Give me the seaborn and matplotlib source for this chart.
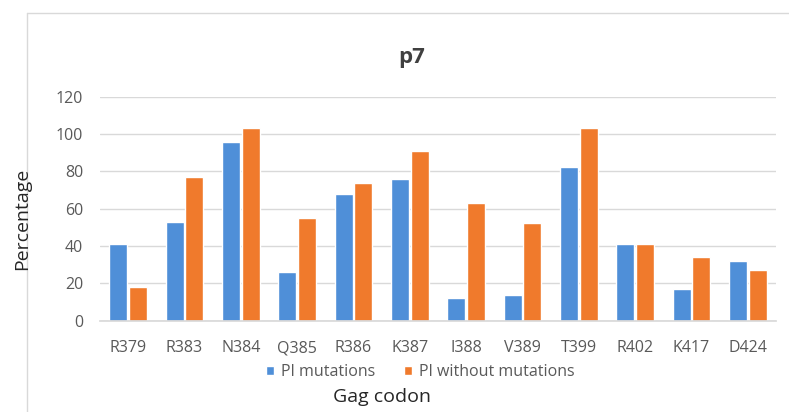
import matplotlib
matplotlib.use("Agg")
import matplotlib.pyplot as plt
from matplotlib.lines import Line2D
import seaborn as sns
import pandas as pd

codons = ["R379", "R383", "N384", "Q385", "R386", "K387", "I388", "V389",
          "T399", "R402", "K417", "D424"]
pi_mutations = [41, 53, 96, 26, 68, 76, 12, 14, 82.5, 41, 17, 32]
pi_without = [18, 77, 103, 55, 74, 91, 63, 52.5, 103, 41, 34, 27]
series_names = ["PI mutations", "PI without mutations"]
yticks = [0, 20, 40, 60, 80, 100, 120]

df = pd.DataFrame({
    "codon": codons * 2,
    "value": pi_mutations + pi_without,
    "series": [series_names[0]] * len(codons) + [series_names[1]] * len(codons),
})

sns.set_theme(style="white")
plt.rcParams["font.family"] = ["Open Sans", "DejaVu Sans"]

W, H = 789, 412
fig = plt.figure(figsize=(W / 100, H / 100), dpi=100)
ax = fig.add_axes([100 / W, 1 - 320.7 / H, 676 / W, 224 / H])

palette = {series_names[0]: "#4f8fd8", series_names[1]: "#f07a2c"}
sns.barplot(data=df, x="codon", y="value", hue="series", palette=palette,
            width=0.7, gap=0.1, saturation=1, ax=ax, legend=True)

ax.set_ylim(0, 120)
ax.set_yticks(yticks)
ax.set_xlim(-0.5, len(codons) - 0.5)
ax.yaxis.grid(True, color="#d9d9d9", linewidth=1)
ax.set_axisbelow(True)
for s in ["top", "right", "left"]:
    ax.spines[s].set_visible(False)
ax.spines["bottom"].set_color("#d9d9d9")
ax.tick_params(axis="both", length=0, colors="#595959", labelsize=11.5)
ax.tick_params(axis="x", pad=14)
ax.tick_params(axis="y", pad=12)
ax.set_xlabel("")
ax.set_ylabel("")

fig.text(382 / W, 1 - 397 / H, "Gag codon", fontsize=14, color="#262626",
         ha="center", va="center")
fig.text(22 / W, 1 - 219 / H, "Percentage", fontsize=14, color="#262626",
         ha="center", va="center", rotation=90)
fig.text(412 / W, 1 - 58 / H, "p7", fontsize=16, fontweight="bold",
         color="#404040", ha="center", va="center")

leg = ax.legend(loc="center", bbox_to_anchor=((420 - 100) / 676, -0.229), ncol=2,
                frameon=False, fontsize=11.5, handlelength=0.55, handleheight=0.55,
                handletextpad=0.4, columnspacing=1.8)
for t in leg.get_texts():
    t.set_color("#595959")

# outer chart frame
fig.add_artist(Line2D([27 / W, 1], [1 - 13 / H, 1 - 13 / H],
                      transform=fig.transFigure, color="#d9d9d9", lw=1))
fig.add_artist(Line2D([27 / W, 27 / W], [0, 1 - 13 / H],
                      transform=fig.transFigure, color="#d9d9d9", lw=1))

fig.savefig("out.png", dpi=100)
